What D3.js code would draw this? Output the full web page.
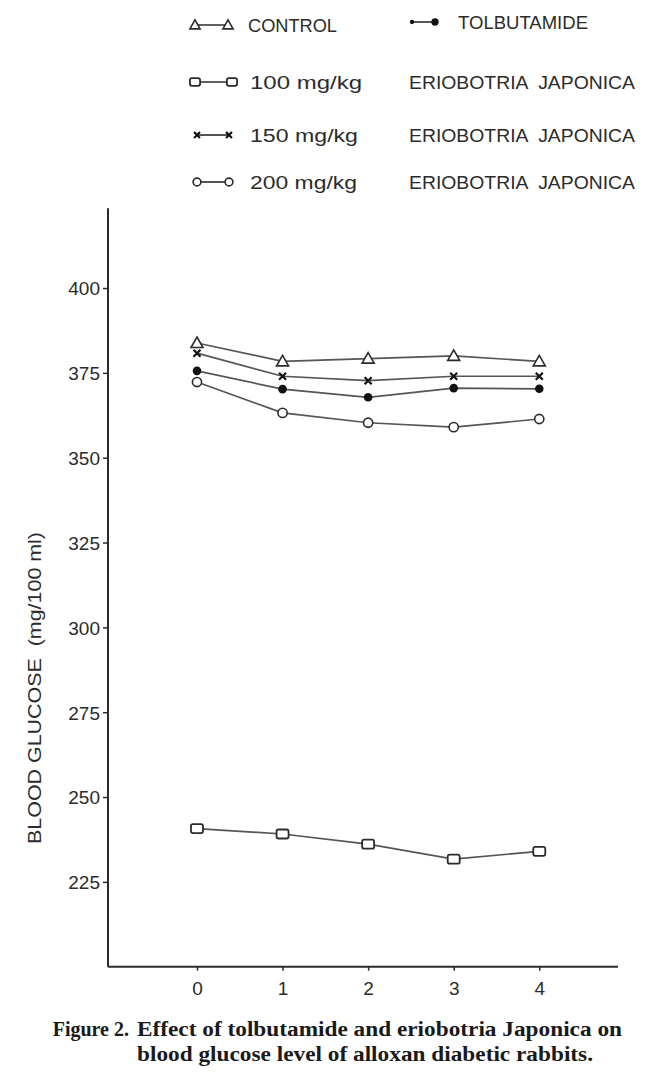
<!DOCTYPE html>
<html>
<head>
<meta charset="utf-8">
<script src="https://cdn.jsdelivr.net/npm/d3@7"></script>
<style>
  body { margin: 0; background: #fff; }
  svg { display: block; }
  text { white-space: pre; }
</style>
</head>
<body>
<div id="chart"></div>
<script>
// days after treatment
const days = [0, 1, 2, 3, 4]

// blood glucose, mg/100 ml
const control     = [383.8, 378.4, 379.2, 380.0, 378.4]
const tolbutamide = [375.6, 370.2, 367.8, 370.5, 370.3]
const dose100     = [240.7, 239.1, 236.1, 231.7, 234.0]
const dose150     = [380.8, 374.0, 372.7, 374.0, 374.0]
const dose200     = [372.3, 363.2, 360.3, 359.0, 361.4]

const yTicks = [225, 250, 275, 300, 325, 350, 375, 400]

const series = [
  {name: "CONTROL", values: control, symbol: "triangle"},
  {name: "TOLBUTAMIDE", values: tolbutamide, symbol: "dot"},
  {name: "100 mg/kg", values: dose100, symbol: "square"},
  {name: "150 mg/kg", values: dose150, symbol: "cross"},
  {name: "200 mg/kg", values: dose200, symbol: "circle"}
]

const width = 650
const height = 1081
const ink = "#2b2b2b"
const lineInk = "#555"

const svg = d3.select("#chart")
    .append("svg")
    .attr("width", width)
    .attr("height", height)

const x = d3.scaleLinear()
    .domain([-1.04, 4.92])
    .range([108, 618])

const y = d3.scaleLinear()
    .domain([200, 423.5])
    .range([966.7, 208.3])

// axes
const yAxis = svg.append("g")
    .attr("transform", `translate(${x(-1.04)},0)`)
    .call(d3.axisLeft(y).tickValues(yTicks).tickSize(5).tickPadding(3))
yAxis.select(".domain").attr("stroke", ink).attr("stroke-width", 2)
    .attr("d", `M0,${y(423.5)}V${y(200)}`)
yAxis.selectAll(".tick line").attr("stroke", ink).attr("stroke-width", 1.5)
yAxis.selectAll(".tick text")
    .attr("fill", ink)
    .style("font-family", "'Liberation Sans', Arial, sans-serif")
    .style("font-size", "19px")
    .attr("dy", "0.36em")

const xAxis = svg.append("g")
    .attr("transform", `translate(0,${y(200)})`)
    .call(d3.axisBottom(x).tickValues(days).tickSize(4).tickPadding(11).tickFormat(d3.format("d")))
xAxis.select(".domain").attr("stroke", ink).attr("stroke-width", 2)
    .attr("d", `M${x(-1.04)},0H${x(4.92)}`)
xAxis.selectAll(".tick line").attr("stroke", ink).attr("stroke-width", 1.5)
xAxis.selectAll(".tick text")
    .attr("fill", ink)
    .style("font-family", "'Liberation Sans', Arial, sans-serif")
    .style("font-size", "19px")

// y axis title
svg.append("text")
    .attr("transform", `translate(41,688) rotate(-90)`)
    .attr("text-anchor", "middle")
    .attr("fill", ink)
    .attr("textLength", 312)
    .attr("lengthAdjust", "spacingAndGlyphs")
    .style("font-family", "'Liberation Sans', Arial, sans-serif")
    .style("font-size", "19px")
    .text("BLOOD GLUCOSE  (mg/100 ml)")

// marker drawing
function drawMarker(g, symbol, cx, cy, scale) {
  const k = scale || 1
  if (symbol === "triangle") {
    const s = 6 * k
    g.append("path")
        .attr("d", `M${cx},${cy - s}L${cx + s},${cy + s * 0.75}L${cx - s},${cy + s * 0.75}Z`)
        .attr("fill", "#fff").attr("stroke", ink).attr("stroke-width", 1.6)
  } else if (symbol === "dot") {
    g.append("circle").attr("cx", cx).attr("cy", cy).attr("r", 4.3 * k)
        .attr("fill", "#111")
  } else if (symbol === "square") {
    g.append("rect")
        .attr("x", cx - 6 * k).attr("y", cy - 4.5 * k)
        .attr("width", 12 * k).attr("height", 9 * k)
        .attr("rx", 2).attr("fill", "#fff").attr("stroke", ink).attr("stroke-width", 1.8)
  } else if (symbol === "cross") {
    const s = 3.5 * k
    g.append("path")
        .attr("d", `M${cx - s},${cy - s}L${cx + s},${cy + s}M${cx - s},${cy + s}L${cx + s},${cy - s}`)
        .attr("stroke", "#111").attr("stroke-width", 2.2)
  } else if (symbol === "circle") {
    g.append("circle").attr("cx", cx).attr("cy", cy).attr("r", 4.6 * k)
        .attr("fill", "#fff").attr("stroke", ink).attr("stroke-width", 1.6)
  }
}

// lines
const line = d3.line()
    .x((d, i) => x(days[i]))
    .y(d => y(d))

svg.append("g")
    .selectAll("path")
    .data(series)
    .join("path")
    .attr("d", d => line(d.values))
    .attr("fill", "none")
    .attr("stroke", lineInk)
    .attr("stroke-width", 1.7)

// points
series.forEach(s => {
  const g = svg.append("g")
  s.values.forEach((v, i) => drawMarker(g, s.symbol, x(days[i]), y(v)))
})

// legend
const legendFont = "'Liberation Sans', Arial, sans-serif"
const legendRows = [
  {s: 0, x1: 195, x2: 228, cy: 25, tx: 248, tl: 89},
  {s: 1, x1: 412, x2: 435, cy: 22, tx: 458, tl: 130},
  {s: 2, x1: 195, x2: 232, cy: 82, tx: 250, tl: 112},
  {s: 3, x1: 197, x2: 229, cy: 135, tx: 250, tl: 108},
  {s: 4, x1: 197, x2: 229, cy: 182, tx: 250, tl: 107}
]
const legend = svg.append("g")
legendRows.forEach(r => {
  const s = series[r.s]
  legend.append("line")
      .attr("x1", r.x1).attr("x2", r.x2)
      .attr("y1", r.cy).attr("y2", r.cy)
      .attr("stroke", ink).attr("stroke-width", 1.6)
  drawMarker(legend, s.symbol, r.x1, r.cy, r.s === 1 ? 0.5 : 0.85)
  drawMarker(legend, s.symbol, r.x2, r.cy, 0.85)
  legend.append("text")
      .attr("x", r.tx).attr("y", r.cy + 7)
      .attr("fill", ink)
      .attr("textLength", r.tl)
      .attr("lengthAdjust", "spacingAndGlyphs")
      .style("font-family", legendFont)
      .style("font-size", "19px")
      .text(s.name)
  if (r.s >= 2) {
    legend.append("text")
        .attr("x", 409).attr("y", r.cy + 7)
        .attr("fill", ink)
        .attr("textLength", 226)
        .attr("lengthAdjust", "spacingAndGlyphs")
        .style("font-family", legendFont)
        .style("font-size", "19px")
        .text("ERIOBOTRIA  JAPONICA")
  }
})

// caption
const caption = svg.append("g")
    .style("font-family", "'Liberation Serif', 'Times New Roman', serif")
    .style("font-size", "20px")
    .style("font-weight", "bold")
    .attr("fill", "#1a1a1a")
caption.append("text")
    .attr("x", 129).attr("y", 1035.5)
    .attr("text-anchor", "end")
    .text("Figure 2.")
caption.append("text")
    .attr("x", 137).attr("y", 1035.5)
    .attr("textLength", 485)
    .attr("lengthAdjust", "spacingAndGlyphs")
    .text("Effect of tolbutamide and eriobotria Japonica on")
caption.append("text")
    .attr("x", 137).attr("y", 1061)
    .attr("textLength", 456)
    .attr("lengthAdjust", "spacingAndGlyphs")
    .text("blood glucose level of alloxan diabetic rabbits.")
</script>
</body>
</html>
